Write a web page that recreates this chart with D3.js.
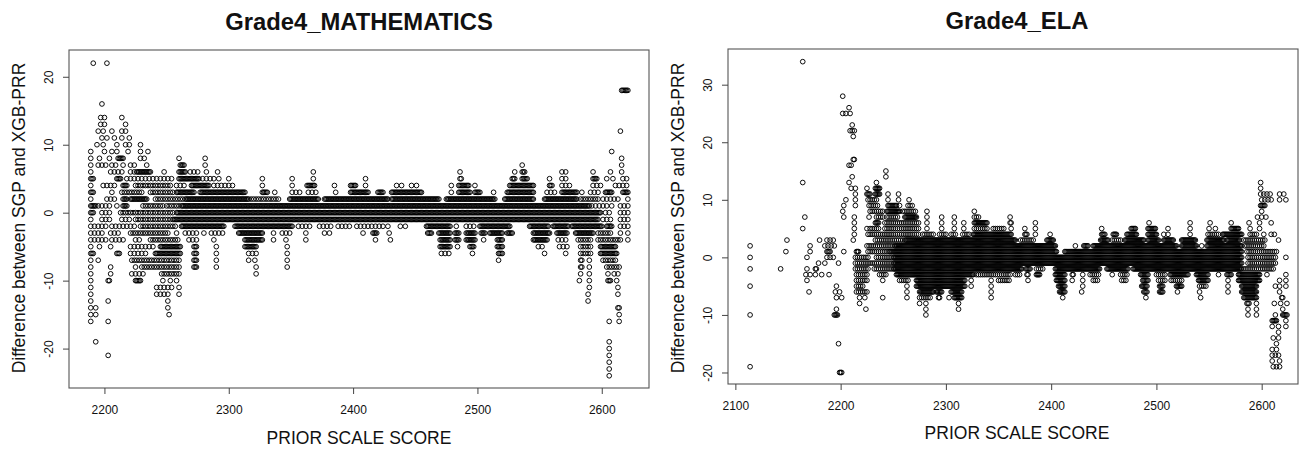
<!DOCTYPE html>
<html><head><meta charset="utf-8">
<script src="https://cdn.jsdelivr.net/npm/d3@7/dist/d3.min.js"></script>
<style>
html,body{margin:0;padding:0;background:#fff}
svg{display:block}
text{font-family:"Liberation Sans",Arial,sans-serif;fill:#111}
</style></head><body>
<svg id="c" width="1299" height="449"></svg>
<script>
// Values. Each row is one integer difference; an entry is a score,
// or a run [from,to] of scores, or [from,to,gap] where the picture shows a chain of separate circles.
const xTicks = [2200,2300,2400,2500,2600];
const xTicksEla = [2100,2200,2300,2400,2500,2600];
const yTicksMath = [-20,-10,0,10,20];
const yTicksEla = [-20,-10,0,10,20,30];

const mathLevels = [22,18,16,14,13,12,11,10,9,8,7,6,5,4,3,2,1,0,-1,-2,-3,-4,-5,-6,-7,-8,-9,-10,-11,-12,-13,-14,-15,-16,-19,-20,-21,-22,-23,-24];
const mathScores = [
[2191,2202],
[[2616,2621]],
[2198],
[[2197,2202,3],2214],
[[2197,2202,3],2217],
[2195,2199,2206,[2214,2219,3],2615],
[2198,2202,2208,2214,2220],
[2194,2199,2210,[2217,2221,3],2229],
[2189,2200,2206,2210,2219,2229,2235,2608],
[2189,2196,2204,[2211,2215],[2229,2234,3],2260,2281,2616],
[2189,[2195,2202,3],[2206,2210,3],2215,[2221,2225,3],2234,[2261,2264],2281,2536,2616],
[2189,[2205,2215,3],[2221,2226,3],[2226,2237],2248,[2260,2265],[2269,2276,3],2282,2291,2368,2486,2530,[2536,2538],[2568,2572,3],2593,2607,2616],
[[2189,2191],[2210,2213],[2218,2254,3],[2260,2275],[2276,2288,3],2292,2300,2327,2351,2368,2410,[2486,2487],[2528,2530],[2536,2540],2558,[2568,2573,3],[2593,2596],2604,2609,[2617,2620,3]],
[2189,[2199,2210,3],[2215,2218],[2225,2254,2],[2258,2266,3],[2270,2284],[2288,2305,3],2327,2351,[2363,2369],2385,[2398,2402],2410,[2435,2440,4],[2447,2452,4],2479,[2485,2493],2498,[2526,2545],[2558,2560],[2568,2574,3],[2593,2599,3],[2611,2620,3]],
[[2189,2191],2206,[2214,2230,2],[2237,2255,2],[2258,2272],[2277,2313],[2327,2331],2337,[2351,2357,3],[2364,2372,3],2386,[2398,2412],[2420,2424],[2431,2455],2479,[2485,2494],[2498,2502],2513,[2524,2545],[2556,2562,3],[2568,2580],2584,[2591,2597,3],[2603,2608],[2617,2621]],
[2189,[2202,2209,3],[2215,2218],[2221,2234],[2241,2265,2],[2266,2315],[2316,2340,2],[2349,2372],[2377,2428],[2431,2469],[2475,2514],[2522,2545],[2554,2580],[2583,2597,2],[2601,2615,3],2621],
[[2189,2193],[2195,2205,3],2210,[2215,2218],[2231,2247,2],[2250,2262,2],[2263,2590],[2592,2604,3],2608,[2615,2621,3]],
[[2189,2191],[2198,2206,3],[2213,2255,2],[2258,2599],[2603,2607,3],[2615,2621,3]],
[2189,[2198,2206,3],[2214,2222,3],[2225,2255,2],[2256,2597],[2601,2608,3],[2615,2621,3]],
[[2189,2203,3],[2206,2225,3],[2229,2258,2],[2262,2296],[2305,2351],[2356,2367,3],[2373,2384,3],[2388,2398,3],2403,[2406,2424,3],2428,[2438,2445,4],[2459,2478],2483,[2491,2499,3],[2502,2526],[2542,2557],[2561,2573],[2576,2600],[2604,2608],[2615,2621,3]],
[[2189,2198,3],[2205,2212,3],[2221,2251,2],2258,[2265,2274,3],2280,[2286,2296,3],[2308,2327],2336,[2343,2351,3],2362,[2377,2382,4],2408,[2416,2419],2429,[2460,2463],[2469,2478],[2482,2485],[2491,2498],[2503,2506],[2510,2520],[2524,2528],[2545,2558],[2564,2572],[2579,2593],[2597,2608,2],2615,2621],
[[2189,2201,3],[2206,2217,3],[2225,2230,3],[2237,2260,2],[2268,2274,3],2288,[2313,2327],2336,2346,2362,2418,2430,[2470,2478],[2482,2485],[2491,2498],2505,[2516,2520],[2545,2556],[2565,2572,3],[2581,2592,2],[2597,2616,2],2621],
[2189,2196,2205,[2221,2240,3],[2245,2261],[2272,2274],2290,[2313,2322],2347,[2470,2478],2484,[2494,2497],[2516,2520],[2549,2554,3],[2566,2572,3],[2583,2591,2],[2599,2611]],
[[2189,2191],[2210,2212],[2221,2233,3],[2241,2261],[2272,2274],2290,[2316,2322,3],2347,[2471,2477,3],2496,[2517,2520],2554,2571,[2583,2591,2],[2599,2612]],
[2189,2195,[2222,2261,2],[2272,2274],2290,2316,2321,2347,2517,[2583,2584],2590,[2601,2612,2]],
[2189,2205,2225,[2230,2261,2],[2272,2274],2290,2322,2347,[2583,2584],2590,[2604,2615,2]],
[2189,2205,[2222,2233,3],[2246,2261,2],2322,2583,2590,2605,[2610,2615,3]],
[2189,[2203,2204],[2225,2229],2247,2253,2258,2582,2590,[2605,2607],2612],
[2189,[2242,2254,3],2260,2590,2613],
[2189,[2242,2251,3],2260,2589,2613],
[2189,2203,2251,2589],
[[2189,2193,4],2251,[2613,2614]],
[[2189,2193,4],2252,2614],
[2189,2203,2606,2614],
[2193,2606],
[2606],
[2203,2606],
[2606],
[2606],
[2606]
];

const elaLevels = [34,28,26,25,23,22,21,17,16,15,14,13,12,11,10,9,8,7,6,5,4,3,2,1,0,-1,-2,-3,-4,-5,-6,-7,-8,-9,-10,-11,-12,-13,-14,-15,-16,-17,-18,-19,-20];
const elaScores = [
[2164],
[2202],
[2208],
[2202,2205,2209],
[2211],
[2209,2211,2213],
[2212],
[[2212,2213]],
[2208,2210],
[2243],
[2211,2243],
[2164,2208,2234,2599],
[2210,2214,2225,[2233,2237],2599],
[2214,[2225,2228],[2233,2237],2245,2255,[2599,2609,3],[2617,2622,4]],
[2205,2214,[2226,2234,2],2245,2255,2265,[2600,2609,3],2617,2623],
[2203,2214,[2227,2236,2],[2245,2253],2256,[2264,2268,2],[2599,2603]],
[2202,[2228,2240,2],[2244,2256],[2259,2272,2],2282,2327,2600],
[2166,2203,2213,2227,[2234,2240,2],[2244,2255,2],[2261,2272],2282,2296,2308,[2327,2332,2],2361,[2596,2607,4]],
[2213,[2233,2236],[2242,2274,2],2282,2296,2308,2317,[2327,2339],2361,2362,2385,2493,2532,2551,2571,2588,2598,2609],
[2164,2213,2225,[2228,2236,2],[2242,2274,2],2282,2296,2308,2317,[2327,2339,2],[2345,2356,2],2362,2375,2385,2448,[2476,2480],[2492,2499],2511,2532,2550,2556,[2571,2578],2589,2598],
[2213,[2226,2275,2],[2278,2288,2],[2294,2301,2],[2305,2310,2],[2316,2323,2],[2326,2362],[2375,2377],2385,2399,[2448,2451],[2459,2462],[2472,2481],[2492,2500],2507,2511,2532,[2549,2560,2],[2563,2581],[2589,2595,2],2602,[2609,2614,3]],
[2149,2180,[2187,2195,3],2212,[2233,2260,2],[2261,2366],[2371,2383,2],[2396,2402],[2447,2454],[2458,2466,2],[2470,2488],[2492,2502],[2507,2516],[2524,2537],[2548,2564],[2567,2579],[2583,2603,2],2616],
[2114,2171,[2185,2195,3],[2225,2250,2],[2251,2404],2423,[2431,2435],[2440,2519],[2524,2538],2543,[2548,2581],[2584,2603,2]],
[2148,2171,[2187,2190],2203,[2215,2217],[2226,2245,2],[2246,2405],[2413,2581],[2586,2614,2]],
[2114,2168,[2187,2193,3],[2214,2226,2],[2234,2250,2],[2251,2581],[2587,2613,2],2623],
[2179,2185,2198,[2214,2250,2],[2251,2581],[2587,2613,2]],
[2114,2143,2168,[2176,2177],[2214,2226,2],[2232,2250,2],[2251,2372],[2376,2380],[2386,2393,2],[2404,2446],[2453,2473],[2478,2580],[2581,2611,2]],
[[2167,2171,4],2176,2182,2189,[2215,2225,2],[2237,2244,2],[2253,2326],[2329,2361,2],[2366,2371,2],[2377,2378],[2386,2389],[2404,2413],[2420,2421],2430,[2437,2445,2],2458,[2466,2472,2],[2485,2492],[2500,2508,2],[2513,2530],[2538,2549],2559,[2567,2571],[2578,2598],2605,2623],
[2168,[2215,2225,2],2240,[2256,2264,2],[2272,2318],2324,2343,[2350,2361,2],2378,[2405,2413],2420,2430,[2440,2445,2],[2467,2472,2],[2487,2492],[2502,2508,2],[2514,2524,2],[2540,2549],2568,[2578,2598],2617,2623],
[2114,2196,[2215,2222,2],2263,[2272,2318],2324,2343,[2407,2413],2430,[2486,2491],[2503,2506],[2519,2524],[2541,2547,2],2568,[2581,2595],[2613,2617,4],2623],
[2170,[2195,2199,4],[2215,2225,2],2263,[2275,2288],[2291,2296],[2305,2315],2343,[2408,2413],2429,[2488,2491],[2503,2506],2520,2541,2568,[2581,2595],2617],
[[2196,2201,5],[2218,2223,5],2240,2263,[2275,2285,2],[2293,2294],2303,[2308,2315],2343,2411,2490,2542,[2583,2595],[2619,2620]],
[2218,2275,2281,2312,[2586,2588],2595,[2612,2624,6]],
[2196,2224,2281,2312,2587,2595,2620],
[2114,[2194,2197],2281,2587,2595,2613,[2620,2624]],
[[2610,2614],2623],
[2610,2616,2623],
[2616],
[2611,2616],
[2198,2614],
[2610,2614],
[[2610,2617,3]],
[2610,2617],
[2114,[2611,2617,3]],
[[2199,2201]]
];

const expand = (levels, scores) => levels.flatMap((y,i) =>
  scores[i].flatMap(s => Array.isArray(s) ? d3.range(s[0], s[1]+1, s[2]||1) : [s]).map(x => ({x,y})));

const svg = d3.select("#c");

function panel(o){
  const x = d3.scaleLinear().domain(o.xDomain).range([o.left,o.right]);
  const y = d3.scaleLinear().domain(o.yDomain).range([o.bottom,o.top]);
  const g = svg.append("g");
  g.append("g").selectAll("circle").data(expand(o.levels,o.scores)).join("circle")
    .attr("cx",d=>x(d.x)).attr("cy",d=>y(d.y)).attr("r",2.35)
    .attr("fill","none").attr("stroke","#000").attr("stroke-width",0.95);
  g.append("rect").attr("x",o.left).attr("y",o.top).attr("width",o.right-o.left).attr("height",o.bottom-o.top)
    .attr("fill","none").attr("stroke","#555").attr("stroke-width",1.1);
  const ax = g.append("g").attr("transform",`translate(0,${o.bottom})`)
    .call(d3.axisBottom(x).tickValues(o.xTicks).tickFormat(d3.format("d")).tickSize(6).tickSizeOuter(0).tickPadding(11));
  const ay = g.append("g").attr("transform",`translate(${o.left},0)`)
    .call(d3.axisLeft(y).tickValues(o.yTicks).tickFormat(d=>d<0?"-"+(-d):d).tickSize(6).tickSizeOuter(0).tickPadding(0));
  [ax,ay].forEach(a=>{
    a.selectAll("path.domain").remove();
    a.selectAll("line").attr("stroke","#444").attr("stroke-width",1);
    a.selectAll("text").attr("font-size",12).attr("fill","#222").style("font-family",'"Liberation Sans",Arial,sans-serif');
  });
  ay.selectAll(".tick text").attr("text-anchor","middle").attr("x",0).attr("dy",0)
    .attr("transform",d=>`translate(${-o.yLabelGap},0) rotate(-90)`);
  g.append("text").attr("x",o.cx).attr("y",o.titleY).attr("text-anchor","middle")
    .attr("font-size",o.titleSize).attr("font-weight","bold").text(o.title);
  g.append("text").attr("x",o.cx).attr("y",o.xLabelY).attr("text-anchor","middle")
    .attr("font-size",17.5).attr("fill","#222").text("PRIOR SCALE SCORE");
  g.append("text").attr("transform",`translate(${o.yTitleX},${o.yTitleY}) rotate(-90)`).attr("text-anchor","middle")
    .attr("font-size",17.5).attr("fill","#222").text("Difference between SGP and XGB-PRR");
}

panel({title:"Grade4_MATHEMATICS",titleY:30,titleSize:23.8,cx:359,xLabelY:444,yTitleX:25,yTitleY:218,yLabelGap:16,
  left:69,right:649,top:50,bottom:388,
  xDomain:[2171.5,2638],yDomain:[-25.8,23.94],xTicks,yTicks:yTicksMath,levels:mathLevels,scores:mathScores});
panel({title:"Grade4_ELA",titleY:29,titleSize:23.8,cx:1017,xLabelY:439,yTitleX:684,yTitleY:218,yLabelGap:16,
  left:728,right:1298,top:49,bottom:384,
  xDomain:[2093,2634.5],yDomain:[-22,36.2],xTicks:xTicksEla,yTicks:yTicksEla,levels:elaLevels,scores:elaScores});
</script>
</body></html>
